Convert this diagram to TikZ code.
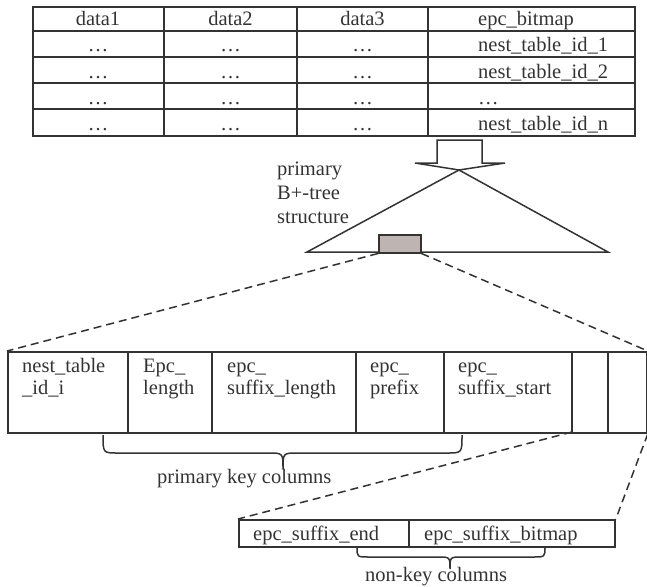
\documentclass[tikz,border=0pt]{standalone}
\usepackage{fontspec}
\setmainfont{Liberation Serif}
\begin{document}
\begin{tikzpicture}[x=1pt,y=-1pt,
  ln/.style={draw=lc, line width=1.8pt},
  dsh/.style={draw=lc, line width=1.5pt, dash pattern=on 8pt off 5pt},
  txt/.style={inner sep=0pt, text=tc, font=\fontsize{20.5}{22}\selectfont},
  tl/.style={txt, anchor=base west},
  tcn/.style={txt, anchor=base},
  frame/.style={ln, rectangle, inner sep=0pt, anchor=north west},
  brc/.style={draw=lc, line width=1.5pt}]
\definecolor{lc}{HTML}{333333}
\definecolor{tc}{HTML}{333333}
\definecolor{gfill}{HTML}{BEB4B2}
\useasboundingbox (0,0) rectangle (647,586);

% ---------- top table ----------
\node[frame, minimum width=602pt, minimum height=129pt] (tt) at (32,6) {};
\foreach \y in {31,57,83,109} \draw[ln] (32,\y) -- (634,\y);
\foreach \x in {164,297,428} \draw[ln] (\x,6) -- (\x,135);
\node[tcn] (h1) at (98,26) {data1};
\node[tcn] (h2) at (230.5,26) {data2};
\node[tcn] (h3) at (362.5,26) {data3};
\node[tl]  (h4) at (478,26) {epc\_bitmap};
\foreach \r/\y in {1/52,2/78,3/104,4/130}{
  \node[tcn] (a\r) at (98,\y) {\dots};
  \node[tcn] (b\r) at (230.5,\y) {\dots};
  \node[tcn] (c\r) at (362.5,\y) {\dots};
}
\node[tl] (d1) at (478,52) {nest\_table\_id\_1};
\node[tl] (d2) at (478,78) {nest\_table\_id\_2};
\node[tl] (d3) at (478,104) {\dots};
\node[tl] (d4) at (478,130) {nest\_table\_id\_n};

% ---------- block arrow ----------
\draw[ln, line width=1.5pt] (437,140) -- (482,140) -- (482,163) -- (505,163) -- (459,170) -- (415,163) -- (437,163) -- cycle;

% ---------- B+ tree triangle ----------
\coordinate (apex) at (459,170);
\draw[ln, line width=1.5pt] (apex) -- (307,252) -- (608,252) -- cycle;
\node[frame, fill=gfill, line width=1.5pt, minimum width=42pt, minimum height=18pt] (gb) at (378,234) {};
\node[tl] (p1) at (277,175) {primary};
\node[tl] (p2) at (277,199) {B+-tree};
\node[tl] (p3) at (277,223) {structure};

% ---------- middle table ----------
\node[frame, minimum width=639pt, minimum height=81pt] (mt) at (7,351) {};
\foreach \x in {128,212,356,444,572,608} \draw[ln] (\x,351) -- (\x,432);
\coordinate (mc) at (572,432);
\node[tl] (m1a) at (22,372) {nest\_table};
\node[tl] (m1b) at (22,394) {\_id\_i};
\node[tl] (m2a) at (143,372) {Epc\_};
\node[tl] (m2b) at (143,394) {length};
\node[tl] (m3a) at (227,372) {epc\_};
\node[tl] (m3b) at (227,394) {suffix\_length};
\node[tl] (m4a) at (370,372) {epc\_};
\node[tl] (m4b) at (370,394) {prefix};
\node[tl] (m5a) at (458,372) {epc\_};
\node[tl] (m5b) at (458,394) {suffix\_start};

% zoom lines
\draw[dsh] (gb.south west) -- (mt.north west);
\draw[dsh] (gb.south east) -- (mt.north east);

% primary key brace
\draw[brc] (103,435) .. controls (103,453) .. (118,453) -- (268,453) .. controls (283,453) .. (283,469)
  .. controls (283,453) .. (298,453) -- (447,453) .. controls (462,453) .. (462,435);
\node[tl] (pk) at (157,483) {primary key columns};

% ---------- bottom table ----------
\node[frame, minimum width=376pt, minimum height=27pt] (bt) at (238,519) {};
\draw[ln] (409,519) -- (409,546);
\node[tl] (e1) at (253,540) {epc\_suffix\_end};
\node[tl] (e2) at (424,540) {epc\_suffix\_bitmap};

\draw[dsh] (mc) -- (bt.north west);
\draw[dsh] (mt.south east) -- (bt.north east);

% non-key brace
\draw[brc] (357,547) .. controls (357,557) .. (369,557) -- (438,557) .. controls (450,557) .. (450,569)
  .. controls (450,557) .. (462,557) -- (533,557) .. controls (545,557) .. (545,547);
\node[tl] (nk) at (365,581) {non-key columns};
\end{tikzpicture}
\end{document}
